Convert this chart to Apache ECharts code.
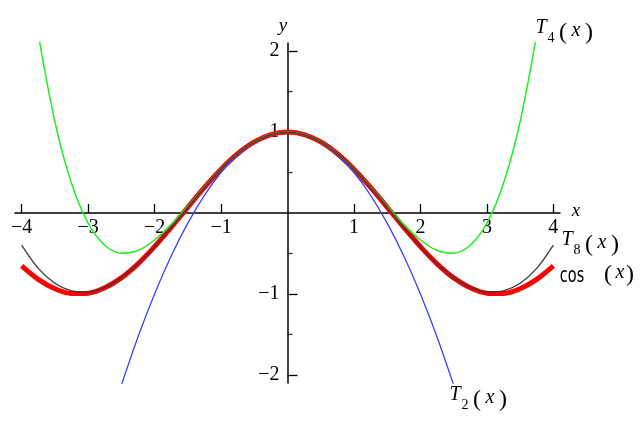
<!DOCTYPE html>
<html>
<head>
<meta charset="utf-8">
<script src="https://cdn.jsdelivr.net/npm/echarts@6/dist/echarts.min.js"></script>
<style>html,body{margin:0;padding:0;background:#fff}#c{width:640px;height:432px}</style>
</head>
<body>
<div id="c"></div>
<script>
var xs = [-4,-3.75,-3.5,-3.25,-3,-2.75,-2.5,-2.25,-2,-1.75,-1.5,-1.25,-1,-0.75,-0.5,-0.25,0,0.25,0.5,0.75,1,1.25,1.5,1.75,2,2.25,2.5,2.75,3,3.25,3.5,3.75,4];
var cosVals = [-0.6536,-0.8206,-0.9365,-0.9941,-0.9900,-0.9243,-0.8011,-0.6282,-0.4161,-0.1782,0.0707,0.3153,0.5403,0.7317,0.8776,0.9689,1,0.9689,0.8776,0.7317,0.5403,0.3153,0.0707,-0.1782,-0.4161,-0.6282,-0.8011,-0.9243,-0.9900,-0.9941,-0.9365,-0.8206,-0.6536];
var t8Vals = [-0.3968,-0.6840,-0.8671,-0.9606,-0.9748,-0.9179,-0.7986,-0.6273,-0.4159,-0.1782,0.0708,0.3153,0.5403,0.7317,0.8776,0.9689,1,0.9689,0.8776,0.7317,0.5403,0.3153,0.0708,-0.1782,-0.4159,-0.6273,-0.7986,-0.9179,-0.9748,-0.9606,-0.8671,-0.6840,-0.3968];
var t4Vals = [null,2.2085,1.1276,0.3674,-0.125,-0.3983,-0.4974,-0.4634,-0.3333,-0.1405,0.0859,0.3205,0.5417,0.7319,0.8776,0.9689,1,0.9689,0.8776,0.7319,0.5417,0.3205,0.0859,-0.1405,-0.3333,-0.4634,-0.4974,-0.3983,-0.125,0.3674,1.1276,2.2085,null];
var t2Vals = [null,null,null,null,null,null,-2.125,-1.5313,-1,-0.5313,-0.125,0.2188,0.5,0.7188,0.875,0.9688,1,0.9688,0.875,0.7188,0.5,0.2188,-0.125,-0.5313,-1,-1.5313,-2.125,null,null,null,null,null,null];
var xTicks = [-4,-3,-2,-1,1,2,3,4];
var yTicks = [-2,-1,1,2];
var yMinorTicks = [-1.5,-0.5,0.5,1.5];
var xRange = [-4.1, 4.1];
var yRange = [-2.1, 2.1];

function pairs(vals){ return xs.map(function(x,i){ return [x, vals[i]]; }); }
var serif = '"Liberation Serif","DejaVu Serif",serif';

function tLabel(tx, ty, sub){
  return [
    {type:'text', x:tx, y:ty, style:{text:'T', font:'italic 20px '+serif, fill:'#000', align:'center', verticalAlign:'middle'}},
    {type:'text', x:tx+10, y:ty+10, style:{text:sub, font:'14px '+serif, fill:'#000', align:'center', verticalAlign:'middle'}},
    {type:'text', x:tx+22, y:ty+5, style:{text:'(', font:'24px '+serif, fill:'#000', align:'center', verticalAlign:'middle'}},
    {type:'text', x:tx+35, y:ty+3, style:{text:'x', font:'italic 20px '+serif, fill:'#000', align:'center', verticalAlign:'middle'}},
    {type:'text', x:tx+48, y:ty+5, style:{text:')', font:'24px '+serif, fill:'#000', align:'center', verticalAlign:'middle'}}
  ];
}

var graphics = [].concat(
  tLabel(541, 28, '4'),
  tLabel(567, 240, '8'),
  tLabel(455, 395, '2'),
  [
    {type:'text', x:572, y:276, scaleX:0.66, style:{text:'cos', font:'22px "DejaVu Sans"', fill:'#000', align:'center', verticalAlign:'middle'}},
    {type:'text', x:608, y:275, style:{text:'(', font:'24px '+serif, fill:'#000', align:'center', verticalAlign:'middle'}},
    {type:'text', x:620, y:273, style:{text:'x', font:'italic 20px '+serif, fill:'#000', align:'center', verticalAlign:'middle'}},
    {type:'text', x:630, y:275, style:{text:')', font:'24px '+serif, fill:'#000', align:'center', verticalAlign:'middle'}},
    {type:'text', x:576, y:211, style:{text:'x', font:'italic 19px '+serif, fill:'#000', align:'center', verticalAlign:'middle'}},
    {type:'text', x:283, y:26, style:{text:'y', font:'italic 19px '+serif, fill:'#000', align:'center', verticalAlign:'middle'}}
  ]
);

var minorTickData = yMinorTicks.map(function(v){ return [0, v]; });
function minusFmt(v){ return String(v).replace('-', '\u2212'); }

var chart = echarts.init(document.getElementById('c'), null, {renderer:'canvas'});
chart.setOption({
  animation:false,
  backgroundColor:'#fff',
  grid:{left:15, right:80, top:43, bottom:49, containLabel:false, outerBoundsMode:'none'},
  xAxis:{
    type:'value', min:xRange[0], max:xRange[1], position:'bottom', offset:0,
    axisLine:{onZero:false, lineStyle:{color:'#000', width:1.5}},
    axisTick:{show:true, inside:true, length:9, customValues:xTicks, lineStyle:{color:'#000', width:1.3}},
    axisLabel:{customValues:xTicks, margin:5, color:'#000', fontFamily:serif, fontSize:20, formatter:minusFmt},
    splitLine:{show:false}
  },
  yAxis:{
    type:'value', min:yRange[0], max:yRange[1], position:'left', offset:0,
    axisLine:{onZero:false, lineStyle:{color:'#000', width:1.5}},
    axisTick:{show:true, inside:true, length:10, customValues:yTicks, lineStyle:{color:'#000', width:1.3}},
    axisLabel:{customValues:yTicks, margin:8, color:'#000', fontFamily:serif, fontSize:20, formatter:minusFmt},
    splitLine:{show:false}
  },
  series:[
    {type:'line', data:pairs(cosVals), smooth:0.3, showSymbol:false, clip:true, z:2, lineStyle:{color:'#ff0000', width:5}},
    {type:'line', data:pairs(t2Vals), smooth:0.3, showSymbol:false, clip:true, z:3, lineStyle:{color:'#4040ff', width:1.3}},
    {type:'line', data:pairs(t4Vals), smooth:0.3, showSymbol:false, clip:true, z:3, lineStyle:{color:'#22ee22', width:1.5}},
    {type:'line', data:pairs(t8Vals), smooth:0.3, showSymbol:false, clip:true, z:4, lineStyle:{color:'#3a3a3a', width:1.3}},
    {type:'scatter', data:minorTickData, symbol:'rect', symbolSize:[5,1.3], symbolOffset:[2.5,0], itemStyle:{color:'#000'}, silent:true, z:5}
  ],
  graphic:graphics
});

// Move both axes (line, ticks, labels) onto the data origin using the library's own scales.
var origin = chart.convertToPixel({gridIndex:0}, [0, 0]);
var corner = chart.convertToPixel({gridIndex:0}, [xRange[0], yRange[0]]);
chart.setOption({
  xAxis:{offset: -(corner[1] - origin[1])},
  yAxis:{offset: -(origin[0] - corner[0])}
});
</script>
</body>
</html>
